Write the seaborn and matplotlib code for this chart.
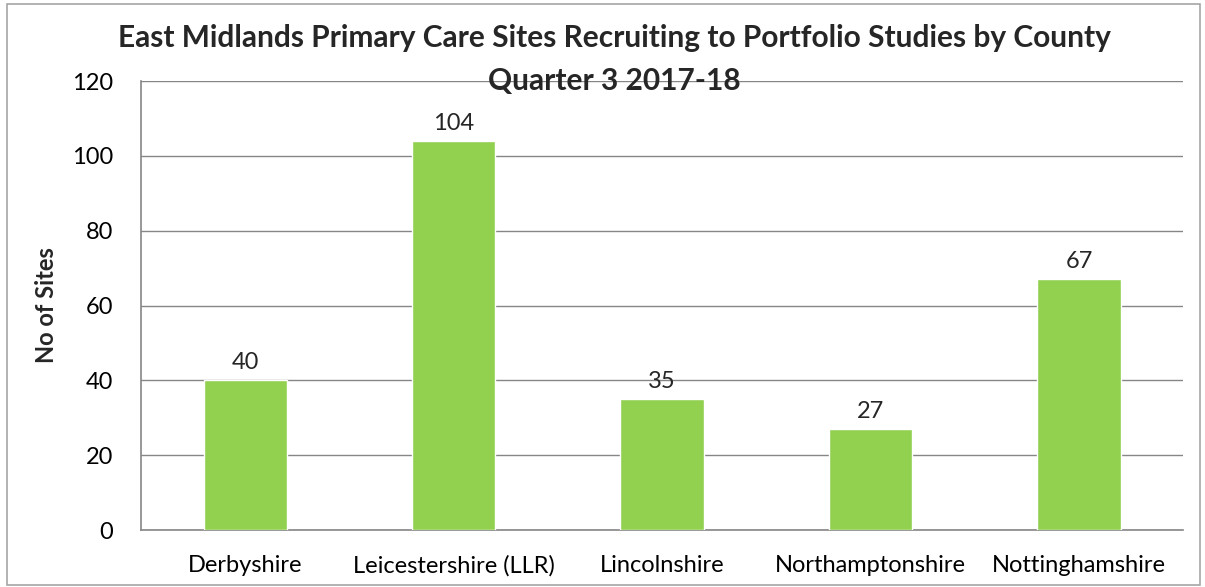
import matplotlib
matplotlib.use('Agg')
import matplotlib.pyplot as plt
import seaborn as sns
import pandas as pd
from matplotlib.patches import Rectangle

counties = ['Derbyshire', 'Leicestershire (LLR)', 'Lincolnshire', 'Northamptonshire', 'Nottinghamshire']
sites = [40, 104, 35, 27, 67]
y_ticks = [0, 20, 40, 60, 80, 100, 120]

df = pd.DataFrame({'County': counties, 'Sites': sites})

sns.set_style('white')
plt.rcParams['font.family'] = ['Lato', 'DejaVu Sans']

fig = plt.figure(figsize=(12.05, 5.87), dpi=100)
ax = fig.add_axes([0.117, 0.097, 0.865, 0.765])

sns.barplot(data=df, x='County', y='Sites', color='#92D050', width=0.4,
            saturation=1, ax=ax, zorder=3)

ax.set_ylim(0, 120)
ax.set_yticks(y_ticks)
ax.grid(axis='y', color='#868686', linewidth=1, zorder=0)
ax.tick_params(axis='both', labelsize=17, length=0, colors='black')
ax.tick_params(axis='x', pad=18)
ax.tick_params(axis='y', pad=20)
for side in ['top', 'right']:
    ax.spines[side].set_visible(False)
for side in ['left', 'bottom']:
    ax.spines[side].set_color('#868686')
    ax.spines[side].set_linewidth(1.2)

for i, v in enumerate(sites):
    ax.annotate(str(v), (i, v), xytext=(0, 5), textcoords='offset points',
                ha='center', va='bottom', fontsize=17)

ax.set_xlabel('')
ax.set_ylabel('No of Sites', fontsize=17, fontweight='bold', labelpad=10)

fig.text(0.51, 0.935, 'East Midlands Primary Care Sites Recruiting to Portfolio Studies by County',
         ha='center', va='center', fontsize=21.5, fontweight='bold')
fig.text(0.51, 0.862, 'Quarter 3 2017-18',
         ha='center', va='center', fontsize=21.5, fontweight='bold')

fig.patches.append(Rectangle((0.006, 0.003), 0.99, 0.99, transform=fig.transFigure,
                             fill=False, edgecolor='#a6a6a6', linewidth=1.2))

fig.savefig('out.png', dpi=100)
